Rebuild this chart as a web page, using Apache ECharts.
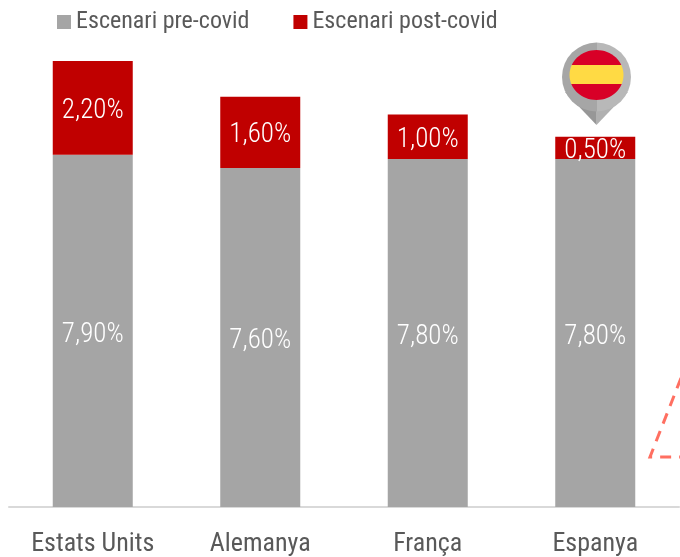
<!DOCTYPE html>
<html>
<head>
<meta charset="utf-8">
<style>
  html, body { margin: 0; padding: 0; background: #fff; }
  #main { width: 680px; height: 557px; }
</style>
<script src="https://cdn.jsdelivr.net/npm/echarts@6/dist/echarts.min.js"></script>
</head>
<body>
<div id="main"></div>
<script>
const countries = ['Estats Units', 'Alemanya', 'França', 'Espanya'];
const preCovid = [7.9, 7.6, 7.8, 7.8];
const postCovid = [2.2, 1.6, 1.0, 0.5];

const font = '"Roboto Condensed", "Liberation Sans", sans-serif';

function pct(p) {
  return p.value.toFixed(2).replace('.', ',') + '%';
}

const chart = echarts.init(document.getElementById('main'));

chart.setOption({
  animation: false,
  legend: {
    left: 52,
    top: 5,
    itemWidth: 14,
    itemHeight: 14,
    itemGap: 44,
    icon: 'rect',
    textStyle: { color: '#595959', fontFamily: font, fontSize: 24 },
    data: ['Escenari pre-covid', 'Escenari post-covid']
  },
  grid: { left: 9, right: 1, top: 61, bottom: 49 },
  xAxis: {
    type: 'category',
    data: countries,
    axisLine: { lineStyle: { color: '#d9d9d9', width: 2 } },
    axisTick: { show: false },
    axisLabel: { color: '#595959', fontFamily: font, fontSize: 26, margin: 24 }
  },
  // bars that pass 10 get cut at the top, same as the source chart
  yAxis: { type: 'value', min: 0, max: 10, show: false },
  series: [
    {
      name: 'Escenari pre-covid',
      type: 'bar',
      stack: 'total',
      barWidth: 80,
      itemStyle: { color: '#a5a5a5' },
      label: { show: true, position: 'inside', offset: [0, 4], color: '#fff', fontFamily: font, fontSize: 27, fontWeight: 300, formatter: pct },
      data: preCovid
    },
    {
      name: 'Escenari post-covid',
      type: 'bar',
      stack: 'total',
      barWidth: 80,
      itemStyle: { color: '#c00000' },
      label: { show: true, position: 'inside', offset: [0, 3], color: '#fff', fontFamily: font, fontSize: 27, fontWeight: 300, formatter: pct },
      data: postCovid
    }
  ],
  graphic: [
    // spanish flag pin
    {
      type: 'polygon',
      shape: { points: [[565, 92], [596.5, 125], [628, 92]] },
      style: {
        fill: new echarts.graphic.LinearGradient(0, 0, 1, 0, [
          { offset: 0, color: '#979797' },
          { offset: 0.5, color: '#979797' },
          { offset: 0.5, color: '#b0b0b0' },
          { offset: 1, color: '#b0b0b0' }
        ])
      }
    },
    {
      type: 'circle',
      shape: { cx: 596.5, cy: 77, r: 34.5 },
      style: {
        fill: new echarts.graphic.LinearGradient(0, 0, 1, 0, [
          { offset: 0, color: '#a6a6a6' },
          { offset: 0.5, color: '#a6a6a6' },
          { offset: 0.5, color: '#b8b8b8' },
          { offset: 1, color: '#b8b8b8' }
        ])
      }
    },
    {
      type: 'ellipse',
      shape: { cx: 596.5, cy: 75, rx: 27, ry: 25 },
      style: {
        fill: new echarts.graphic.LinearGradient(0, 0, 0, 1, [
          { offset: 0, color: '#d80027' },
          { offset: 0.3, color: '#d80027' },
          { offset: 0.3, color: '#ffda44' },
          { offset: 0.67, color: '#ffda44' },
          { offset: 0.67, color: '#d80027' },
          { offset: 1, color: '#d80027' }
        ])
      }
    },
    // dashed triangle cut off by the right edge
    {
      type: 'polyline',
      shape: { points: [[681, 378], [650, 457], [680, 457]] },
      style: { stroke: '#ff6f61', lineWidth: 3, lineDash: [11, 8], fill: null }
    }
  ]
});
</script>
</body>
</html>
